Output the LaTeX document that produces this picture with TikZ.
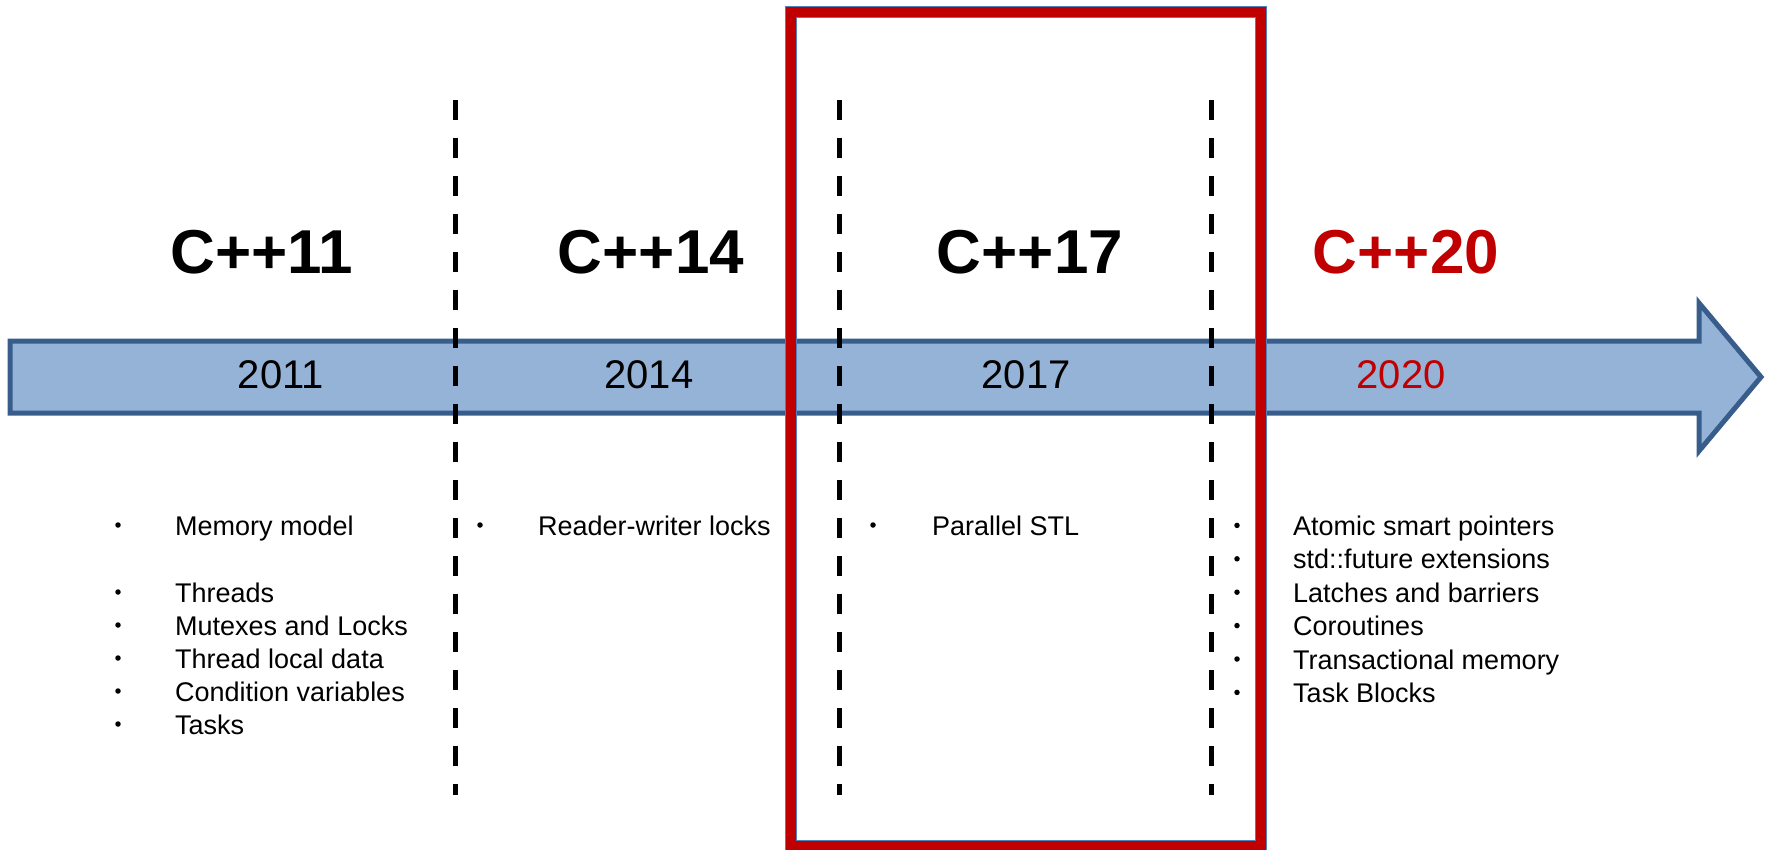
\documentclass[tikz,border=0pt]{standalone}
\usepackage{fontspec}
\setmainfont{Liberation Sans}
\usetikzlibrary{positioning}
\definecolor{barfill}{HTML}{95B3D7}
\definecolor{barline}{HTML}{385D8A}
\definecolor{boxred}{HTML}{C00000}
\definecolor{boxblue}{HTML}{4F81BD}

\begin{document}
\begin{tikzpicture}[x=1pt,y=-1pt]
  % Styles
  \tikzstyle{version} = [font=\fontsize{62}{72}\selectfont\bfseries, anchor=base, inner sep=0]
  \tikzstyle{yearlabel} = [font=\fontsize{40}{46}\selectfont, anchor=base, inner sep=0]
  \tikzstyle{feature} = [font=\fontsize{27}{33}\selectfont, anchor=base west, inner sep=0]
  \tikzstyle{bulletdot} = [circle, fill=black, inner sep=0, minimum size=5.5pt]
  \tikzstyle{divider} = [line width=5pt, dash pattern=on 20pt off 18pt]
  \useasboundingbox (0,0) rectangle (1775,849);
  % Timeline arrow
  \draw[barline, fill=barfill, line width=5pt, line join=miter]
    (10,341) -- (1699,341) -- (1699,303) -- (1761,377) -- (1699,451) -- (1699,413) -- (10,413) -- cycle;
  % Dividers
  \foreach \x [count=\i] in {455,839,1211} {
    \coordinate (top\i) at (\x,100);
    \coordinate (bot\i) at (\x,795);
    \draw[divider] (top\i) -- (bot\i);
  }
  % Highlight box
  \coordinate (boxnw) at (791,12);
  \coordinate (boxse) at (1261,846);
  \draw[boxblue, line width=12pt] (boxnw) rectangle (boxse);
  \draw[boxred, line width=10pt] (boxnw) rectangle (boxse);
  % Versions
  \node[version] (cxx11) at (262,273) {C++11};
  \node[version] (cxx14) at (651,273) {C++14};
  \node[version] (cxx17) at (1030,273) {C++17};
  \node[version, text=boxred] (cxx20) at (1406,273) {C++20};
  % Years
  \node[yearlabel] (y2011) at (281,388) {2011};
  \node[yearlabel] (y2014) at (649,388) {2014};
  \node[yearlabel] (y2017) at (1026,388) {2017};
  \node[yearlabel, text=boxred] (y2020) at (1401,388) {2020};
  % Features
  \foreach \y/\t [count=\i] in {535/Memory model, 602/Threads, 635/Mutexes and Locks,
      668/Thread local data, 701/Condition variables, 734/Tasks} {
    \node[bulletdot] (b11-\i) at (118,\y-10) {};
    \node[feature] (f11-\i) at (175,\y) {\t};
  }
  \node[bulletdot] (b14-1) at (480,525) {};
  \node[feature] (f14-1) at (538,535) {Reader-writer locks};
  \node[bulletdot] (b17-1) at (873,525) {};
  \node[feature] (f17-1) at (932,535) {Parallel STL};
  \foreach \t [count=\i] in {Atomic smart pointers, std::future extensions, Latches and barriers,
      Coroutines, Transactional memory, Task Blocks} {
    \node[bulletdot] (b20-\i) at (1237,502+33.4*\i-10) {};
    \node[feature] (f20-\i) at (1293,502+33.4*\i) {\t};
  }
\end{tikzpicture}
\end{document}
